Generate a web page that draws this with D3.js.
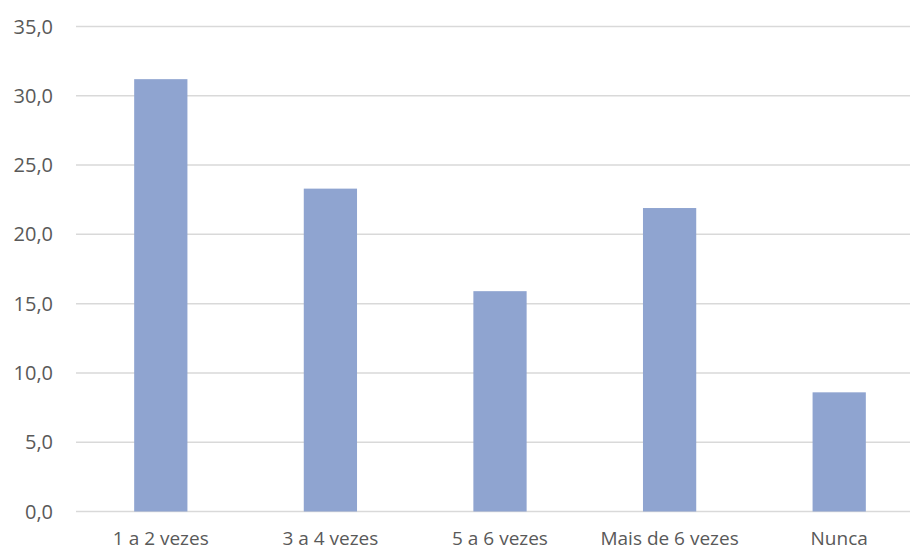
<!DOCTYPE html>
<html><head><meta charset="utf-8">
<script src="https://cdn.jsdelivr.net/npm/d3@7"></script>
<style>body{margin:0;background:#fff;}svg{display:block;}</style>
</head><body>
<svg id="c" width="910" height="552"></svg>
<script>
const categories = ["1 a 2 vezes", "3 a 4 vezes", "5 a 6 vezes", "Mais de 6 vezes", "Nunca"];
const values = [31.2, 23.3, 15.9, 21.9, 8.6];
const yTicks = [0, 5, 10, 15, 20, 25, 30, 35];

const svg = d3.select("#c");
const x = d3.scaleBand().domain(categories).range([76, 924]).paddingInner(0.686).paddingOuter(0.343);
const y = d3.scaleLinear().domain([0, 35]).range([511.5, 26.5]);
const fmt = v => v.toFixed(1).replace(".", ",");
const font = "'Open Sans', sans-serif";

svg.append("g").selectAll("line").data(yTicks).join("line")
  .attr("x1", 76).attr("x2", 910)
  .attr("y1", d => y(d)).attr("y2", d => y(d))
  .attr("stroke", "#d9d9d9").attr("stroke-width", 1.5);

svg.append("g").selectAll("text").data(yTicks).join("text")
  .attr("x", 53).attr("y", d => y(d)).attr("dy", "0.35em")
  .attr("text-anchor", "end").attr("fill", "#595959")
  .style("font-family", font).style("font-size", "20px")
  .text(fmt);

svg.append("g").selectAll("rect").data(values).join("rect")
  .attr("x", (d, i) => x(categories[i]))
  .attr("width", x.bandwidth())
  .attr("y", d => y(d))
  .attr("height", d => y(0) - y(d))
  .attr("fill", "#8fa4d0");

svg.append("g").selectAll("text").data(categories).join("text")
  .attr("x", d => x(d) + x.bandwidth() / 2).attr("y", 545)
  .attr("text-anchor", "middle").attr("fill", "#595959")
  .style("font-family", font).style("font-size", "19px")
  .text(d => d);
</script>
</body></html>
